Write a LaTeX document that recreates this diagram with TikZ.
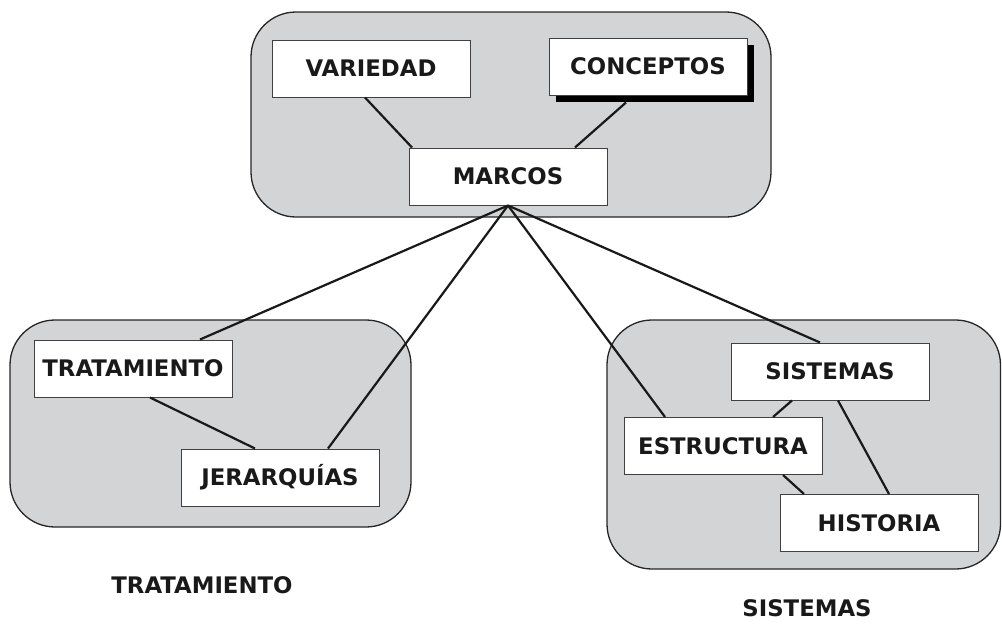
\documentclass[tikz,border=0pt]{standalone}
\usepackage{fontspec}
\setmainfont{DejaVu Sans}
\usetikzlibrary{shadows}
\definecolor{grp}{HTML}{D3D4D6}
\begin{document}
\begin{tikzpicture}[x=1pt,y=-1pt,
  grpbox/.style={draw=black!85,fill=grp,line width=1.3pt,rounded corners=45pt},
  itembox/.style={draw=black!75,fill=white,line width=1pt,minimum width=198pt,minimum height=57pt,inner sep=0pt,
    font=\fontsize{22.8}{26}\selectfont\bfseries,text=black!90},
  lbl/.style={font=\fontsize{22.8}{26}\selectfont\bfseries,text=black!90,inner sep=0pt},
  conn/.style={line width=2.2pt,black!90}]
\useasboundingbox (0,0) rectangle (1002,627);
\draw[grpbox] (251,12) rectangle (771,217);
\draw[grpbox] (10,320) rectangle (411,527);
\draw[grpbox] (607,320) rectangle (1000.5,569);
\node[itembox] (var) at (371,68.5) {VARIEDAD};
\node[itembox,drop shadow={shadow xshift=7pt,shadow yshift=-7pt,fill=black,opacity=1}] (con) at (648,66.5) {CONCEPTOS};
\node[itembox] (mar) at (508,176.5) {MARCOS};
\node[itembox] (tra) at (133,368.5) {TRATAMIENTO};
\node[itembox] (jer) at (280,477.5) {JERARQUÍAS};
\node[itembox] (sis) at (830,371.5) {SISTEMAS};
\node[itembox] (est) at (723,446) {ESTRUCTURA};
\node[itembox] (his) at (879,523) {HISTORIA};
\node[lbl] (ltra) at (202,585) {TRATAMIENTO};
\node[lbl] (lsis) at (807,608) {SISTEMAS};
\draw[conn] ([xshift=-6pt]var.south) -- ([xshift=-96pt]mar.north);
\draw[conn] ([xshift=-22pt,yshift=-7pt]con.south) -- ([xshift=67pt]mar.north);
\draw[conn] (mar.south) -- ([xshift=67pt]tra.north);
\draw[conn] (mar.south) -- ([xshift=48pt]jer.north);
\draw[conn] (mar.south) -- ([xshift=-58pt]est.north);
\draw[conn] (mar.south) -- ([xshift=-10pt]sis.north);
\draw[conn] ([xshift=17pt]tra.south) -- ([xshift=-25pt]jer.north);
\draw[conn] ([xshift=-38pt]sis.south) -- ([xshift=50pt]est.north);
\draw[conn] ([xshift=8pt]sis.south) -- ([xshift=10pt]his.north);
\draw[conn] ([xshift=60pt]est.south) -- ([xshift=-75pt]his.north);
\end{tikzpicture}
\end{document}
